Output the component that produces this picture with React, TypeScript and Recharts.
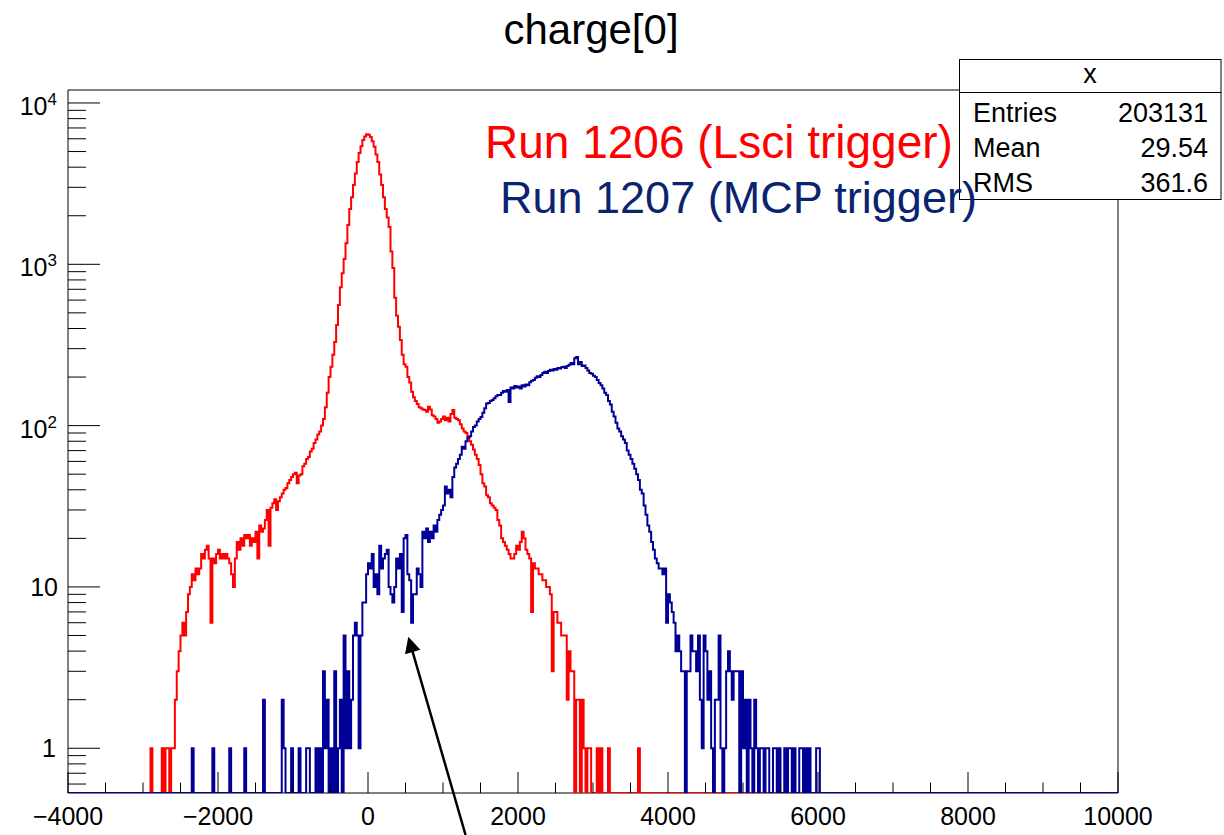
import React from 'react';
import { LineChart, Line, XAxis, YAxis, ReferenceArea, ReferenceLine } from 'recharts';

const W = 1224;
const H = 835;
const FONT = '"Liberation Sans", Arial, Helvetica, sans-serif';

const BIN_WIDTH = 25;
const X_MIN = -4000;
const X_MAX = 10000;
const Y_MIN = 0.528;
const Y_MAX = 12035;

// Run 1206 (Lsci trigger): counts per 25-unit bin, first bin starts at RED_START
const RED_START = -2900;
const RED_COUNTS = [
  1, 0, 0, 0, 0, 0, 1, 0, 1, 1, 0, 1, 1, 2, 3, 4, 5, 6, 5, 7,
  9, 10, 12, 11, 13, 12, 13, 16, 15, 17, 18, 15, 6, 15, 14, 16, 17, 15, 16, 15,
  16, 15, 14, 12, 10, 15, 19, 17, 20, 18, 21, 20, 21, 18, 20, 19, 22, 15, 24, 22,
  23, 26, 30, 18, 31, 33, 35, 30, 34, 36, 38, 40, 41, 44, 46, 48, 50, 51, 44, 49,
  50, 56, 58, 62, 64, 69, 72, 78, 82, 88, 92, 100, 110, 130, 160, 200, 232, 275, 330, 420,
  560, 720, 880, 1080, 1350, 1750, 2200, 2600, 3100, 3650, 4300, 4900, 5400, 5900, 6200, 6400, 6350, 6150, 5800, 5350,
  4800, 4300, 3600, 3100, 2600, 2200, 1950, 1700, 1200, 950, 620, 480, 410, 340, 275, 240, 232, 200, 185, 162,
  150, 142, 136, 130, 128, 126, 125, 122, 131, 126, 116, 114, 110, 104, 106, 110, 114, 108, 112, 106,
  118, 125, 112, 110, 108, 102, 96, 92, 90, 85, 80, 76, 71, 66, 62, 57, 50, 44, 42, 37,
  36, 33, 32, 31, 30, 26, 24, 20, 19, 18, 17, 16, 15, 15, 16, 18, 17, 19, 22, 20,
  17, 16, 15, 7, 14, 13, 13, 12, 12, 11, 11, 10, 10, 9, 3, 7, 7, 6, 6, 5,
  5, 5, 2, 4, 3, 3, 0, 2, 2, 0, 2, 1, 0, 1, 1, 0, 0, 0, 1, 0,
  1, 0, 0, 0, 1, 0, 0, 0, 0, 0, 0, 0, 0, 0, 0, 0, 0, 0, 0, 0,
  1,
];

// Run 1207 (MCP trigger): counts per 25-unit bin, first bin starts at BLUE_START
const BLUE_START = -2350;
const BLUE_COUNTS = [
  1, 0, 0, 0, 0, 0, 0, 0, 0, 0, 0, 1, 0, 0, 0, 0, 0, 0, 0, 0,
  1, 0, 0, 0, 0, 0, 0, 0, 1, 0, 0, 0, 0, 0, 0, 0, 0, 0, 2, 0,
  0, 0, 0, 0, 0, 0, 0, 0, 2, 1, 0, 0, 0, 1, 0, 0, 0, 1, 0, 0,
  0, 1, 1, 0, 0, 0, 1, 0, 1, 0, 3, 1, 2, 0, 1, 0, 3, 0, 1, 2,
  0, 5, 1, 3, 1, 2, 5, 6, 5, 1, 5, 8, 8, 12, 14, 13, 16, 10, 12, 9,
  18, 13, 15, 16, 17, 10, 9, 8, 10, 15, 13, 16, 7, 20, 21, 12, 11, 6, 9, 9,
  13, 12, 10, 22, 20, 23, 19, 22, 20, 24, 22, 26, 28, 30, 32, 42, 38, 40, 36, 48,
  55, 58, 62, 66, 74, 72, 80, 84, 86, 92, 98, 100, 106, 110, 113, 120, 128, 137, 138, 142,
  144, 148, 152, 155, 155, 160, 164, 162, 166, 140, 172, 170, 176, 172, 175, 170, 178, 175, 180, 178,
  186, 190, 192, 198, 202, 200, 206, 212, 216, 212, 218, 222, 220, 224, 222, 228, 226, 230, 232, 228,
  234, 238, 244, 240, 262, 266, 240, 248, 234, 236, 228, 220, 212, 210, 204, 200, 192, 184, 178, 170,
  160, 155, 142, 135, 122, 114, 104, 96, 92, 86, 82, 78, 70, 66, 62, 58, 54, 50, 46, 40,
  38, 32, 28, 24, 22, 19, 17, 15, 14, 13, 13, 12, 13, 6, 9, 8, 7, 6, 4, 5,
  4, 3, 3, 0, 3, 3, 5, 4, 4, 3, 5, 2, 1, 5, 4, 2, 3, 1, 0, 2,
  2, 5, 1, 0, 1, 3, 4, 3, 2, 3, 3, 3, 0, 3, 1, 2, 0, 2, 1, 0,
  2, 1, 0, 1, 1, 0, 1, 1, 0, 0, 1, 1, 0, 1, 0, 0, 1, 0, 1, 1,
  0, 1, 0, 0, 1, 1, 0, 1, 0, 1, 0, 0, 0, 1, 1, 0,
];

const X_TICKS = [
  -4000, -3500, -3000, -2500, -2000, -1500, -1000, -500, 0, 500, 1000, 1500, 2000, 2500,
  3000, 3500, 4000, 4500, 5000, 5500, 6000, 6500, 7000, 7500, 8000, 8500, 9000, 9500, 10000,
];
const X_LABELED = [-4000, -2000, 0, 2000, 4000, 6000, 8000, 10000];

const Y_TICKS = [
  0.6, 0.7, 0.8, 0.9, 1, 2, 3, 4, 5, 6, 7, 8, 9, 10, 20, 30, 40, 50, 60, 70, 80, 90,
  100, 200, 300, 400, 500, 600, 700, 800, 900, 1000, 2000, 3000, 4000, 5000, 6000, 7000,
  8000, 9000, 10000,
];
const Y_DECADES = [1, 10, 100, 1000, 10000];

const TITLE = 'charge[0]';
const LEGEND_LINES = ['Run 1206 (Lsci trigger)', 'Run 1207 (MCP trigger)'];
const STATS_NAME = 'x';
const STATS_LABELS = ['Entries', 'Mean', 'RMS'];
const STATS_VALUES = ['203131', '29.54', '361.6'];

// arrow annotation in data coordinates: tail (below the frame) -> tip
const ARROW = [
  { x: 1301, y: 0.29 },
  { x: 537, y: 4.92 },
];

const RED = '#ff0000';
const BLUE = '#000099';
const BLUE_TEXT = '#0b2470';

function countAt(start: number, counts: number[], xLow: number): number {
  const i = Math.round((xLow - start) / BIN_WIDTH);
  return i >= 0 && i < counts.length ? counts[i] : 0;
}

const N_BINS = Math.round((X_MAX - X_MIN) / BIN_WIDTH);
const DATA: { x: number; red: number; blue: number }[] = [];
for (let i = 0; i <= N_BINS; i++) {
  const x = X_MIN + i * BIN_WIDTH;
  const low = i < N_BINS ? x : x - BIN_WIDTH;
  const r = countAt(RED_START, RED_COUNTS, low);
  const b = countAt(BLUE_START, BLUE_COUNTS, low);
  DATA.push({ x, red: r > 0 ? r : Y_MIN, blue: b > 0 ? b : Y_MIN });
}

const XTick = (props: any) => {
  const { x, y, payload } = props;
  const v = payload.value;
  const major = X_LABELED.includes(v);
  const label = v < 0 ? '\u2212' + String(-v) : String(v);
  return (
    <g>
      <line x1={x} x2={x} y1={y} y2={y - (major ? 21 : 10.5)} stroke="#000" strokeWidth={1} />
      {major && (
        <text x={x} y={y + 32} textAnchor="middle" fontSize={25} fontFamily={FONT} fill="#000">
          {label}
        </text>
      )}
    </g>
  );
};

const YTick = (props: any) => {
  const { x, y, payload } = props;
  const v = payload.value;
  const isDecade = Y_DECADES.some((d) => Math.abs(d - v) < 1e-9);
  const exp = Math.round(Math.log10(v));
  let label: React.ReactNode = null;
  if (isDecade) {
    if (exp === 0) {
      label = (
        <text x={x - 12} y={y + 9} textAnchor="end" fontSize={25} fontFamily={FONT} fill="#000">
          1
        </text>
      );
    } else if (exp === 1) {
      label = (
        <text x={x - 10} y={y + 9} textAnchor="end" fontSize={25} fontFamily={FONT} fill="#000">
          10
        </text>
      );
    } else {
      label = (
        <text x={x - 11} y={y + 12} textAnchor="end" fontSize={25} fontFamily={FONT} fill="#000">
          10
          <tspan dy={-10} fontSize={17}>
            {String(exp)}
          </tspan>
        </text>
      );
    }
  }
  return (
    <g>
      <line x1={x} x2={x + (isDecade ? 32 : 18)} y1={y} y2={y} stroke="#000" strokeWidth={1} />
      {label}
    </g>
  );
};

const ArrowShape = (p: any) => {
  const { x1, y1, x2, y2 } = p;
  if (![x1, y1, x2, y2].every((n) => typeof n === 'number' && isFinite(n))) return <g />;
  const dx = x2 - x1;
  const dy = y2 - y1;
  const L = Math.hypot(dx, dy) || 1;
  const ux = dx / L;
  const uy = dy / L;
  const hl = 16;
  const hw = 8;
  const bx = x2 - ux * hl;
  const by = y2 - uy * hl;
  const px = -uy;
  const py = ux;
  return (
    <g>
      <line x1={x1} y1={y1} x2={bx + ux * 2} y2={by + uy * 2} stroke="#000" strokeWidth={2.5} />
      <polygon
        points={`${x2},${y2} ${bx + px * hw},${by + py * hw} ${bx - px * hw},${by - py * hw}`}
        fill="#000"
      />
    </g>
  );
};

export default function App() {
  return (
    <div
      style={{
        position: 'absolute',
        left: 0,
        top: 0,
        width: W,
        height: H,
        background: '#fff',
        overflow: 'hidden',
      }}
    >
      <div style={{ position: 'absolute', left: 0, top: 0 }}>
        <LineChart width={W} height={H} data={DATA} margin={{ top: 90, right: 106, bottom: 12, left: 0 }}>
          <ReferenceArea
            x1={X_MIN}
            x2={X_MAX}
            y1={Y_MIN}
            y2={Y_MAX}
            fill="none"
            fillOpacity={0}
            stroke="#000"
            strokeWidth={1}
            strokeOpacity={1}
            ifOverflow="visible"
          />
          <XAxis
            dataKey="x"
            type="number"
            domain={[X_MIN, X_MAX]}
            ticks={X_TICKS}
            interval={0}
            tickSize={0}
            tickMargin={0}
            tickLine={false}
            axisLine={false}
            height={30}
            tick={XTick}
            allowDataOverflow
          />
          <YAxis
            type="number"
            scale="log"
            domain={[Y_MIN, Y_MAX]}
            ticks={Y_TICKS}
            interval={0}
            tickSize={0}
            tickMargin={0}
            tickLine={false}
            axisLine={false}
            width={68}
            tick={YTick}
            allowDataOverflow
          />
          <Line
            dataKey="red"
            type="stepAfter"
            stroke={RED}
            strokeWidth={2}
            dot={false}
            activeDot={false}
            isAnimationActive={false}
          />
          <Line
            dataKey="blue"
            type="stepAfter"
            stroke={BLUE}
            strokeWidth={2}
            dot={false}
            activeDot={false}
            isAnimationActive={false}
          />
          <ReferenceLine segment={ARROW} ifOverflow="visible" shape={ArrowShape} />
        </LineChart>
      </div>
      <svg
        width={W}
        height={H}
        style={{ position: 'absolute', left: 0, top: 0, pointerEvents: 'none' }}
        fontFamily={FONT}
      >
        <text x={591} y={44} textAnchor="middle" fontSize={42} fill="#000">
          {TITLE}
        </text>
        <rect x={959.5} y={59.5} width={261.5} height={140} fill="#fff" stroke="#000" strokeWidth={1} />
        <line x1={959.5} x2={1221} y1={92.5} y2={92.5} stroke="#000" strokeWidth={1} />
        <text x={1090} y={83} textAnchor="middle" fontSize={27} fill="#000">
          {STATS_NAME}
        </text>
        {STATS_LABELS.map((lab, i) => (
          <g key={lab}>
            <text x={973} y={122 + i * 35} fontSize={27} fill="#000">
              {lab}
            </text>
            <text x={1208} y={122 + i * 35} textAnchor="end" fontSize={27} fill="#000">
              {STATS_VALUES[i]}
            </text>
          </g>
        ))}
        <text x={485} y={158} fontSize={46} fill={RED}>
          {LEGEND_LINES[0]}
        </text>
        <text x={500} y={213} fontSize={45} fill={BLUE_TEXT}>
          {LEGEND_LINES[1]}
        </text>
      </svg>
    </div>
  );
}
